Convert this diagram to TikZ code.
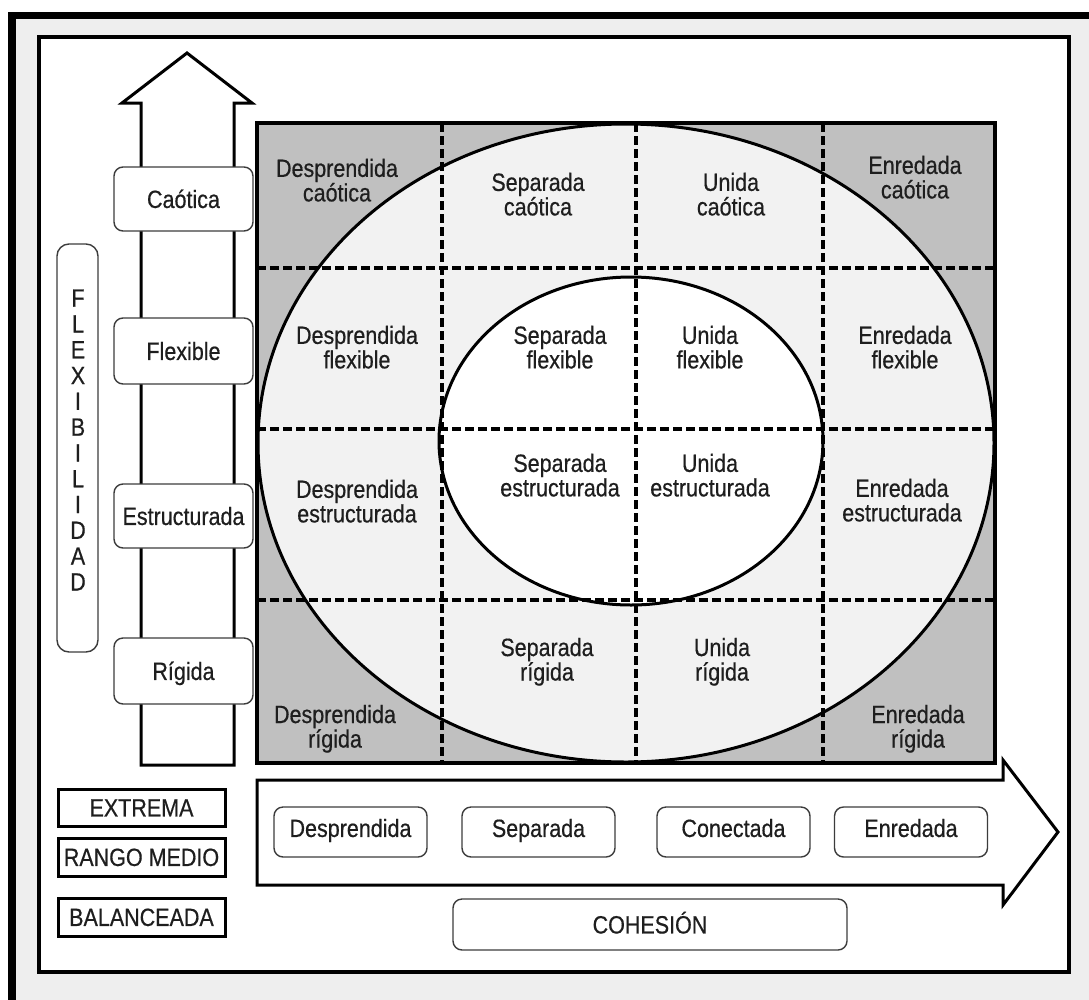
\documentclass[tikz,border=0pt]{standalone}
\usepackage{fontspec}
\setmainfont{Liberation Sans}[FakeStretch=0.86,FakeBold=0.5]
\definecolor{darkc}{RGB}{192,192,192}
\definecolor{lightc}{RGB}{242,242,242}
\definecolor{bandc}{RGB}{238,238,238}
\definecolor{textc}{RGB}{30,30,30}
\definecolor{boxc}{RGB}{60,60,60}
\begin{document}
\begin{tikzpicture}[x=1pt,y=-1pt,
  txt/.style={font=\fontsize{25}{24.5}\selectfont, text=textc, align=center, inner sep=0pt},
  rbox/.style={draw=boxc, line width=1.4pt, rounded corners=9pt, fill=white,
    font=\fontsize{25}{24.5}\selectfont, text=textc, inner sep=0pt,
    text height=17.9pt, text depth=0pt},
  lbox/.style={draw=black, line width=3pt, fill=white,
    font=\fontsize{25}{24.5}\selectfont, text=textc, inner sep=0pt,
    text height=17.9pt, text depth=0pt, minimum width=167pt},
  gridline/.style={line width=4.5pt, dash pattern=on 8.5pt off 4.5pt},
  shapeline/.style={line width=3pt},
  ]
\useasboundingbox (0,0) rectangle (1089,999);
\fill[white] (0,0) rectangle (1089,999);
% frames
\draw[line width=7.5pt, fill=bandc] (12,15.5) rectangle (1130,1040);
\draw[line width=4pt, fill=white] (39,37) rectangle (1069,972);

% vertical arrow
\draw[shapeline, fill=white] (141,765) -- (141,103) -- (122,103) -- (187,53)
  -- (252,103) -- (234,103) -- (234,765) -- cycle;

% bottom arrow
\draw[shapeline, fill=white] (257,780) -- (1003,780) -- (1003,760) -- (1058,832)
  -- (1003,905) -- (1003,885) -- (257,885) -- cycle;

% grid area
\fill[darkc] (257,123) rectangle (995,763);
\begin{scope}
\clip (257,123) rectangle (995,763);
\draw[shapeline, fill=lightc] (626,443) ellipse [x radius=368pt, y radius=319pt];
\draw[shapeline, fill=white] (631,441) ellipse [x radius=192pt, y radius=164pt];
\end{scope}
\foreach \xx in {442,636,823} \draw[gridline] (\xx,123) -- (\xx,763);
\foreach \yy in {268,429,600} \draw[gridline] (257,\yy) -- (995,\yy);
\draw[line width=4pt] (257,123) rectangle (995,763);

% cell texts
\node[txt] (dc) at (337,180.2) {Desprendida\\caótica};
\node[txt] (sc) at (538,194.2) {Separada\\caótica};
\node[txt] (uc) at (731,194.2) {Unida\\caótica};
\node[txt] (ec) at (915,177.2) {Enredada\\caótica};
\node[txt] (df) at (357,347.2) {Desprendida\\flexible};
\node[txt] (sf) at (560,347.2) {Separada\\flexible};
\node[txt] (uf) at (710,347.2) {Unida\\flexible};
\node[txt] (ef) at (905,347.2) {Enredada\\flexible};
\node[txt] (de) at (357,501.2) {Desprendida\\estructurada};
\node[txt] (se) at (560,475.2) {Separada\\estructurada};
\node[txt] (ue) at (710,475.2) {Unida\\estructurada};
\node[txt] (ee) at (902,500.2) {Enredada\\estructurada};
\node[txt] (sr) at (547,661.8) {Separada\\rígida};
\node[txt] (ur) at (722,661.8) {Unida\\rígida};
\node[txt] (dr) at (335,728.8) {Desprendida\\rígida};
\node[txt] (er) at (918,728.8) {Enredada\\rígida};

% flexibility level boxes
\node[rbox, minimum width=139pt, minimum height=64pt] (caot) at (183.5,199) {Caótica};
\node[rbox, minimum width=139pt, minimum height=66pt] (flex) at (183.5,351) {Flexible};
\node[rbox, minimum width=139pt, minimum height=64pt] (estr) at (183.5,516) {Estructurada};
\node[rbox, minimum width=139pt, minimum height=66pt] (rigi) at (183.5,671) {Rígida};

% FLEXIBILIDAD
\node[draw=boxc, line width=1.4pt, rounded corners=12pt, minimum width=41pt,
  minimum height=408pt, inner sep=0pt] (flexbox) at (77.5,448) {};
\node[font=\fontsize{25}{25.8}\selectfont, text=textc, align=center, inner sep=0pt]
  (flexlbl) at (78,440) {F\\L\\E\\X\\I\\B\\I\\L\\I\\D\\A\\D};

% cohesion level boxes
\node[rbox, minimum width=153pt, minimum height=50pt, text depth=8pt] (desp) at (350.5,832) {Desprendida};
\node[rbox, minimum width=153pt, minimum height=50pt, text depth=8pt] (sepa) at (538.5,832) {Separada};
\node[rbox, minimum width=153pt, minimum height=50pt, text depth=8pt] (cone) at (733.5,832) {Conectada};
\node[rbox, minimum width=153pt, minimum height=50pt, text depth=8pt] (enre) at (911,832) {Enredada};
\node[rbox, minimum width=394pt, minimum height=51pt] (cohe) at (650,924.5) {COHESIÓN};

% legend
\node[lbox, minimum height=37pt] (ext) at (141.5,807.5) {EXTREMA};
\node[lbox, minimum height=38pt] (ran) at (141.5,857) {RANGO MEDIO};
\node[lbox, minimum height=38pt] (bal) at (141.5,917) {BALANCEADA};
\end{tikzpicture}
\end{document}
